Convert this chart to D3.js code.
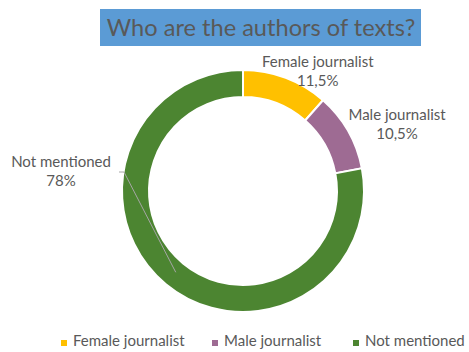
<!DOCTYPE html>
<head>
    <meta charset="utf-8">
    <title>Who are the authors of texts?</title>
    <script src="https://d3js.org/d3.v7.min.js"></script>
    <style>
        body { margin: 0; background: #fff; }
        text { font-family: Lato, "Open Sans", sans-serif; fill: #595959; }
    </style>
</head>
<body>
    <div id="container"></div>
    <script>
        //----------------------------DATA------------------------------//
        var categories = ["Female journalist", "Male journalist", "Not mentioned"];
        var values = [11.5, 10.5, 78];
        var valueLabels = ["11,5%", "10,5%", "78%"];
        var colors = ["#FFC000", "#9E6B93", "#4C8531"];
        var title = "Who are the authors of texts?";

        //---------------------------LAYOUT-----------------------------//
        var width = 469, height = 352,
            cx = 243, cy = 191,
            outerR = 121, innerR = 94;

        var svg = d3.select("#container").append("svg")
            .attr("width", width)
            .attr("height", height);

        //----------------------------TITLE-----------------------------//
        svg.append("rect")
            .attr("x", 100).attr("y", 9)
            .attr("width", 321).attr("height", 37)
            .style("fill", "#5B9BD5");
        svg.append("text")
            .attr("x", 261).attr("y", 36)
            .attr("text-anchor", "middle")
            .style("font-size", "23.6px")
            .text(title);

        //-----------------------------PIE------------------------------//
        var data = categories.map(function (c, i) {
            return { name: c, value: values[i], label: valueLabels[i], color: colors[i] };
        });

        var pie = d3.pie().sort(null).value(function (d) { return d.value; });
        var arc = d3.arc().innerRadius(innerR).outerRadius(outerR);
        var arcs = pie(data);

        var g = svg.append("g").attr("transform", "translate(" + cx + "," + cy + ")");

        g.selectAll("path.slice")
            .data(arcs)
            .enter().append("path")
            .attr("class", "slice")
            .attr("d", arc)
            .style("fill", function (d) { return d.data.color; })
            .style("stroke", "#fff")
            .style("stroke-width", 2);

        //----------------------------LABELS----------------------------//
        // label placement: angle (deg from top) and distance from centre
        var labelPlace = [{ a: 32, r: 141 }, { a: 66.5, r: 168 }, { a: 276, r: 183 }];
        var labels = g.selectAll("g.lbl")
            .data(arcs)
            .enter().append("g")
            .attr("class", "lbl")
            .attr("transform", function (d, i) {
                var p = labelPlace[i], t = p.a * Math.PI / 180;
                return "translate(" + (p.r * Math.sin(t)) + "," + (-p.r * Math.cos(t)) + ")";
            });
        labels.append("text")
            .attr("text-anchor", "middle")
            .attr("y", -4.5)
            .style("font-size", "15px")
            .text(function (d) { return d.data.name; });
        labels.append("text")
            .attr("text-anchor", "middle")
            .attr("y", 14.5)
            .style("font-size", "15px")
            .text(function (d) { return d.data.label; });

        // leader line for the big slice
        var big = arcs[2];
        var mid = d3.arc().innerRadius((innerR + outerR) / 2 - 2).outerRadius((innerR + outerR) / 2 - 2).centroid(big);
        var start = [-outerR + 2, -19];
        g.append("polyline")
            .attr("points", [[start[0] - 5, start[1]], start, mid].map(function (p) { return p.join(","); }).join(" "))
            .style("fill", "none")
            .style("stroke", "#A6A6A6")
            .style("stroke-width", 1);

        //----------------------------LEGEND----------------------------//
        var legendX = [61, 212, 353];
        var legend = svg.selectAll("g.legend")
            .data(data)
            .enter().append("g")
            .attr("class", "legend")
            .attr("transform", function (d, i) { return "translate(" + legendX[i] + ",341)"; });
        legend.append("rect")
            .attr("x", 0).attr("y", -1)
            .attr("width", 6).attr("height", 6)
            .style("fill", function (d) { return d.color; });
        legend.append("text")
            .attr("x", 12).attr("y", 5)
            .style("font-size", "15px")
            .text(function (d) { return d.name; });
    </script>
</body>
